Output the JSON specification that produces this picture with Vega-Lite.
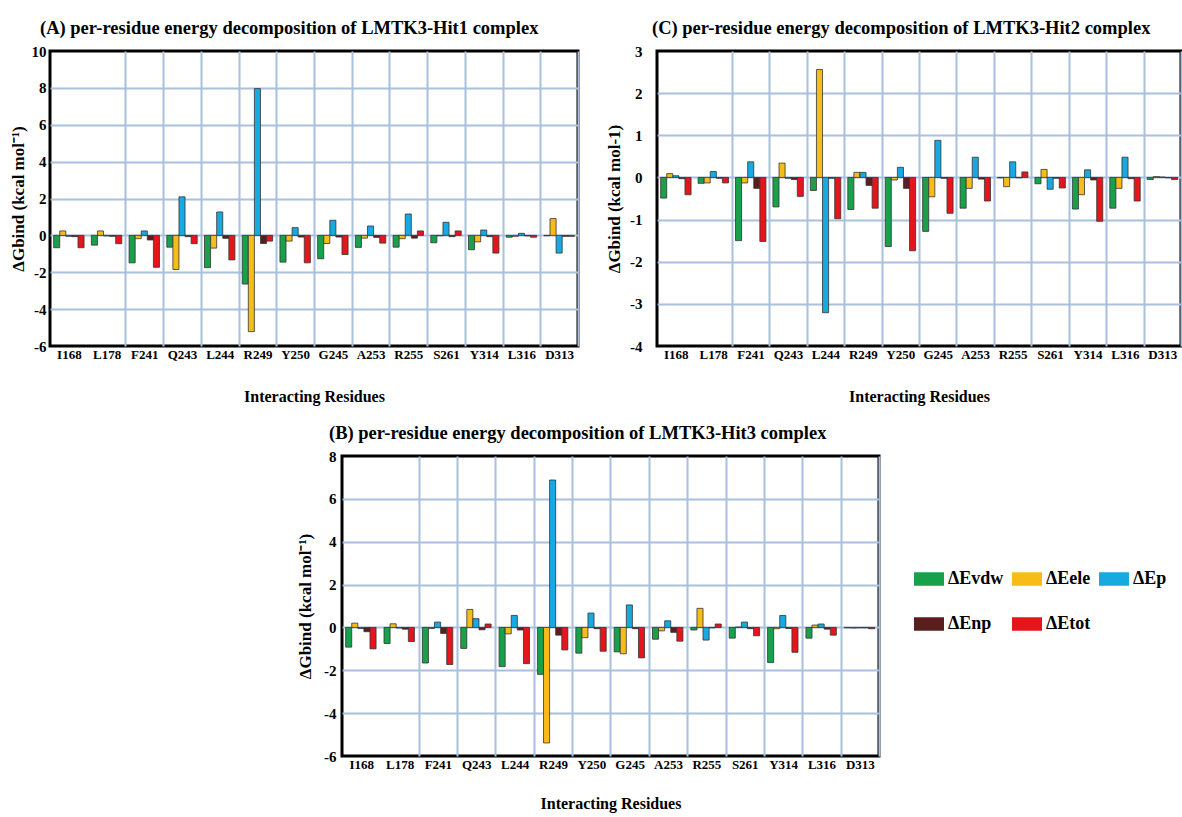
{
"$schema": "https://vega.github.io/schema/vega-lite/v6.json",
"background": "white",
"padding": {"left": 7, "top": 17, "right": 0, "bottom": 0},
"config": {
 "view": {"stroke": "black", "strokeWidth": 3},
 "axis": {"labelFont": "Liberation Serif", "titleFont": "Liberation Serif", "labelFontWeight": "bold", "titleFontWeight": "bold", "labelColor": "black", "titleColor": "black", "gridWidth": 2, "gridOpacity": 1, "domain": false, "ticks": false},
 "title": {"font": "Liberation Serif", "fontWeight": "bold", "fontSize": 18.5, "anchor": "start", "frame": "group", "color": "black", "offset": 7}
},
"datasets": {
 "A": [
  {"residue":"I168","term":"ΔEvdw","value":-0.67},{"residue":"I168","term":"ΔEele","value":0.24},{"residue":"I168","term":"ΔEp","value":-0.05},{"residue":"I168","term":"ΔEnp","value":-0.07},{"residue":"I168","term":"ΔEtot","value":-0.67},
  {"residue":"L178","term":"ΔEvdw","value":-0.53},{"residue":"L178","term":"ΔEele","value":0.24},{"residue":"L178","term":"ΔEp","value":-0.03},{"residue":"L178","term":"ΔEnp","value":-0.05},{"residue":"L178","term":"ΔEtot","value":-0.45},
  {"residue":"F241","term":"ΔEvdw","value":-1.49},{"residue":"F241","term":"ΔEele","value":-0.18},{"residue":"F241","term":"ΔEp","value":0.24},{"residue":"F241","term":"ΔEnp","value":-0.25},{"residue":"F241","term":"ΔEtot","value":-1.73},
  {"residue":"Q243","term":"ΔEvdw","value":-0.64},{"residue":"Q243","term":"ΔEele","value":-1.85},{"residue":"Q243","term":"ΔEp","value":2.09},{"residue":"Q243","term":"ΔEnp","value":-0.07},{"residue":"Q243","term":"ΔEtot","value":-0.45},
  {"residue":"L244","term":"ΔEvdw","value":-1.75},{"residue":"L244","term":"ΔEele","value":-0.69},{"residue":"L244","term":"ΔEp","value":1.27},{"residue":"L244","term":"ΔEnp","value":-0.16},{"residue":"L244","term":"ΔEtot","value":-1.33},
  {"residue":"R249","term":"ΔEvdw","value":-2.64},{"residue":"R249","term":"ΔEele","value":-5.22},{"residue":"R249","term":"ΔEp","value":7.96},{"residue":"R249","term":"ΔEnp","value":-0.44},{"residue":"R249","term":"ΔEtot","value":-0.31},
  {"residue":"Y250","term":"ΔEvdw","value":-1.45},{"residue":"Y250","term":"ΔEele","value":-0.31},{"residue":"Y250","term":"ΔEp","value":0.42},{"residue":"Y250","term":"ΔEnp","value":-0.09},{"residue":"Y250","term":"ΔEtot","value":-1.49},
  {"residue":"G245","term":"ΔEvdw","value":-1.27},{"residue":"G245","term":"ΔEele","value":-0.44},{"residue":"G245","term":"ΔEp","value":0.82},{"residue":"G245","term":"ΔEnp","value":-0.09},{"residue":"G245","term":"ΔEtot","value":-1.04},
  {"residue":"A253","term":"ΔEvdw","value":-0.65},{"residue":"A253","term":"ΔEele","value":-0.15},{"residue":"A253","term":"ΔEp","value":0.51},{"residue":"A253","term":"ΔEnp","value":-0.11},{"residue":"A253","term":"ΔEtot","value":-0.42},
  {"residue":"R255","term":"ΔEvdw","value":-0.64},{"residue":"R255","term":"ΔEele","value":-0.18},{"residue":"R255","term":"ΔEp","value":1.16},{"residue":"R255","term":"ΔEnp","value":-0.15},{"residue":"R255","term":"ΔEtot","value":0.24},
  {"residue":"S261","term":"ΔEvdw","value":-0.4},{"residue":"S261","term":"ΔEele","value":-0.02},{"residue":"S261","term":"ΔEp","value":0.71},{"residue":"S261","term":"ΔEnp","value":-0.07},{"residue":"S261","term":"ΔEtot","value":0.24},
  {"residue":"Y314","term":"ΔEvdw","value":-0.78},{"residue":"Y314","term":"ΔEele","value":-0.35},{"residue":"Y314","term":"ΔEp","value":0.29},{"residue":"Y314","term":"ΔEnp","value":-0.07},{"residue":"Y314","term":"ΔEtot","value":-0.96},
  {"residue":"L316","term":"ΔEvdw","value":-0.1},{"residue":"L316","term":"ΔEele","value":-0.05},{"residue":"L316","term":"ΔEp","value":0.11},{"residue":"L316","term":"ΔEnp","value":-0.03},{"residue":"L316","term":"ΔEtot","value":-0.1},
  {"residue":"D313","term":"ΔEvdw","value":-0.02},{"residue":"D313","term":"ΔEele","value":0.91},{"residue":"D313","term":"ΔEp","value":-0.96},{"residue":"D313","term":"ΔEnp","value":-0.05},{"residue":"D313","term":"ΔEtot","value":-0.05}
 ],
 "C": [
  {"residue":"I168","term":"ΔEvdw","value":-0.49},{"residue":"I168","term":"ΔEele","value":0.09},{"residue":"I168","term":"ΔEp","value":0.04},{"residue":"I168","term":"ΔEnp","value":-0.03},{"residue":"I168","term":"ΔEtot","value":-0.41},
  {"residue":"L178","term":"ΔEvdw","value":-0.14},{"residue":"L178","term":"ΔEele","value":-0.13},{"residue":"L178","term":"ΔEp","value":0.14},{"residue":"L178","term":"ΔEnp","value":-0.02},{"residue":"L178","term":"ΔEtot","value":-0.13},
  {"residue":"F241","term":"ΔEvdw","value":-1.5},{"residue":"F241","term":"ΔEele","value":-0.13},{"residue":"F241","term":"ΔEp","value":0.37},{"residue":"F241","term":"ΔEnp","value":-0.26},{"residue":"F241","term":"ΔEtot","value":-1.52},
  {"residue":"Q243","term":"ΔEvdw","value":-0.7},{"residue":"Q243","term":"ΔEele","value":0.34},{"residue":"Q243","term":"ΔEp","value":-0.02},{"residue":"Q243","term":"ΔEnp","value":-0.05},{"residue":"Q243","term":"ΔEtot","value":-0.45},
  {"residue":"L244","term":"ΔEvdw","value":-0.31},{"residue":"L244","term":"ΔEele","value":2.56},{"residue":"L244","term":"ΔEp","value":-3.21},{"residue":"L244","term":"ΔEnp","value":-0.02},{"residue":"L244","term":"ΔEtot","value":-0.98},
  {"residue":"R249","term":"ΔEvdw","value":-0.76},{"residue":"R249","term":"ΔEele","value":0.12},{"residue":"R249","term":"ΔEp","value":0.12},{"residue":"R249","term":"ΔEnp","value":-0.19},{"residue":"R249","term":"ΔEtot","value":-0.73},
  {"residue":"Y250","term":"ΔEvdw","value":-1.64},{"residue":"Y250","term":"ΔEele","value":-0.06},{"residue":"Y250","term":"ΔEp","value":0.24},{"residue":"Y250","term":"ΔEnp","value":-0.26},{"residue":"Y250","term":"ΔEtot","value":-1.74},
  {"residue":"G245","term":"ΔEvdw","value":-1.28},{"residue":"G245","term":"ΔEele","value":-0.46},{"residue":"G245","term":"ΔEp","value":0.88},{"residue":"G245","term":"ΔEnp","value":-0.02},{"residue":"G245","term":"ΔEtot","value":-0.85},
  {"residue":"A253","term":"ΔEvdw","value":-0.73},{"residue":"A253","term":"ΔEele","value":-0.26},{"residue":"A253","term":"ΔEp","value":0.48},{"residue":"A253","term":"ΔEnp","value":-0.04},{"residue":"A253","term":"ΔEtot","value":-0.56},
  {"residue":"R255","term":"ΔEvdw","value":-0.01},{"residue":"R255","term":"ΔEele","value":-0.22},{"residue":"R255","term":"ΔEp","value":0.37},{"residue":"R255","term":"ΔEnp","value":-0.01},{"residue":"R255","term":"ΔEtot","value":0.13},
  {"residue":"S261","term":"ΔEvdw","value":-0.15},{"residue":"S261","term":"ΔEele","value":0.19},{"residue":"S261","term":"ΔEp","value":-0.28},{"residue":"S261","term":"ΔEnp","value":-0.02},{"residue":"S261","term":"ΔEtot","value":-0.25},
  {"residue":"Y314","term":"ΔEvdw","value":-0.75},{"residue":"Y314","term":"ΔEele","value":-0.41},{"residue":"Y314","term":"ΔEp","value":0.18},{"residue":"Y314","term":"ΔEnp","value":-0.06},{"residue":"Y314","term":"ΔEtot","value":-1.04},
  {"residue":"L316","term":"ΔEvdw","value":-0.73},{"residue":"L316","term":"ΔEele","value":-0.26},{"residue":"L316","term":"ΔEp","value":0.48},{"residue":"L316","term":"ΔEnp","value":-0.03},{"residue":"L316","term":"ΔEtot","value":-0.56},
  {"residue":"D313","term":"ΔEvdw","value":-0.05},{"residue":"D313","term":"ΔEele","value":0.02},{"residue":"D313","term":"ΔEp","value":0.01},{"residue":"D313","term":"ΔEnp","value":-0.01},{"residue":"D313","term":"ΔEtot","value":-0.05}
 ],
 "B": [
  {"residue":"I168","term":"ΔEvdw","value":-0.92},{"residue":"I168","term":"ΔEele","value":0.2},{"residue":"I168","term":"ΔEp","value":-0.05},{"residue":"I168","term":"ΔEnp","value":-0.2},{"residue":"I168","term":"ΔEtot","value":-1.0},
  {"residue":"L178","term":"ΔEvdw","value":-0.75},{"residue":"L178","term":"ΔEele","value":0.17},{"residue":"L178","term":"ΔEp","value":-0.03},{"residue":"L178","term":"ΔEnp","value":-0.08},{"residue":"L178","term":"ΔEtot","value":-0.66},
  {"residue":"F241","term":"ΔEvdw","value":-1.66},{"residue":"F241","term":"ΔEele","value":-0.05},{"residue":"F241","term":"ΔEp","value":0.25},{"residue":"F241","term":"ΔEnp","value":-0.28},{"residue":"F241","term":"ΔEtot","value":-1.73},
  {"residue":"Q243","term":"ΔEvdw","value":-0.98},{"residue":"Q243","term":"ΔEele","value":0.84},{"residue":"Q243","term":"ΔEp","value":0.41},{"residue":"Q243","term":"ΔEnp","value":-0.11},{"residue":"Q243","term":"ΔEtot","value":0.16},
  {"residue":"L244","term":"ΔEvdw","value":-1.83},{"residue":"L244","term":"ΔEele","value":-0.3},{"residue":"L244","term":"ΔEp","value":0.56},{"residue":"L244","term":"ΔEnp","value":-0.12},{"residue":"L244","term":"ΔEtot","value":-1.69},
  {"residue":"R249","term":"ΔEvdw","value":-2.19},{"residue":"R249","term":"ΔEele","value":-5.39},{"residue":"R249","term":"ΔEp","value":6.88},{"residue":"R249","term":"ΔEnp","value":-0.36},{"residue":"R249","term":"ΔEtot","value":-1.05},
  {"residue":"Y250","term":"ΔEvdw","value":-1.2},{"residue":"Y250","term":"ΔEele","value":-0.48},{"residue":"Y250","term":"ΔEp","value":0.67},{"residue":"Y250","term":"ΔEnp","value":-0.06},{"residue":"Y250","term":"ΔEtot","value":-1.11},
  {"residue":"G245","term":"ΔEvdw","value":-1.14},{"residue":"G245","term":"ΔEele","value":-1.23},{"residue":"G245","term":"ΔEp","value":1.05},{"residue":"G245","term":"ΔEnp","value":-0.06},{"residue":"G245","term":"ΔEtot","value":-1.42},
  {"residue":"A253","term":"ΔEvdw","value":-0.55},{"residue":"A253","term":"ΔEele","value":-0.16},{"residue":"A253","term":"ΔEp","value":0.31},{"residue":"A253","term":"ΔEnp","value":-0.23},{"residue":"A253","term":"ΔEtot","value":-0.64},
  {"residue":"R255","term":"ΔEvdw","value":-0.12},{"residue":"R255","term":"ΔEele","value":0.89},{"residue":"R255","term":"ΔEp","value":-0.59},{"residue":"R255","term":"ΔEnp","value":-0.02},{"residue":"R255","term":"ΔEtot","value":0.16},
  {"residue":"S261","term":"ΔEvdw","value":-0.5},{"residue":"S261","term":"ΔEele","value":0.02},{"residue":"S261","term":"ΔEp","value":0.25},{"residue":"S261","term":"ΔEnp","value":-0.06},{"residue":"S261","term":"ΔEtot","value":-0.39},
  {"residue":"Y314","term":"ΔEvdw","value":-1.64},{"residue":"Y314","term":"ΔEele","value":-0.06},{"residue":"Y314","term":"ΔEp","value":0.56},{"residue":"Y314","term":"ΔEnp","value":-0.05},{"residue":"Y314","term":"ΔEtot","value":-1.16},
  {"residue":"L316","term":"ΔEvdw","value":-0.5},{"residue":"L316","term":"ΔEele","value":0.11},{"residue":"L316","term":"ΔEp","value":0.16},{"residue":"L316","term":"ΔEnp","value":-0.08},{"residue":"L316","term":"ΔEtot","value":-0.36},
  {"residue":"D313","term":"ΔEvdw","value":-0.02},{"residue":"D313","term":"ΔEele","value":-0.03},{"residue":"D313","term":"ΔEp","value":-0.02},{"residue":"D313","term":"ΔEnp","value":-0.02},{"residue":"D313","term":"ΔEtot","value":-0.06}
 ]
},
"spacing": 16,
"resolve": {"legend": {"color": "independent"}},
"vconcat": [
 {"spacing": 24, "hconcat": [
  {
   "data": {"name": "A"},
   "width": 528, "height": 295,
   "title": {"text": "(A) per-residue energy decomposition of  LMTK3-Hit1 complex", "dx": -10},
   "mark": {"type": "bar", "stroke": "#333333", "strokeWidth": 0.8},
   "encoding": {
    "x": {"field": "residue", "type": "nominal", "sort": ["I168","L178","F241","Q243","L244","R249","Y250","G245","A253","R255","S261","Y314","L316","D313"], "scale": {"paddingInner": 0, "paddingOuter": 0},
      "axis": {"title": "Interacting Residues", "labelAngle": 0, "grid": true, "tickBand": "extent", "gridColor": {"condition": {"test": "datum.index <= 0", "value": "transparent"}, "value": "#a9c0de"}, "labelFontSize": 13, "titleFontSize": 16, "labelPadding": 2, "titlePadding": 27}},
    "xOffset": {"field": "term", "type": "nominal", "sort": ["ΔEvdw","ΔEele","ΔEp","ΔEnp","ΔEtot"], "scale": {"paddingInner": 0, "paddingOuter": 0.6}},
    "y": {"field": "value", "type": "quantitative", "scale": {"domain": [-6, 10], "nice": false},
      "axis": {"values": [-6,-4,-2,0,2,4,6,8,10], "labelExpr": "datum.value < 0 ? '-' + abs(datum.value) : '' + datum.value", "title": "ΔGbind  (kcal mol⁻¹)", "grid": true, "gridColor": {"condition": {"test": "datum.value == -6 || datum.value == 10", "value": "transparent"}, "value": "#a9c0de"}, "labelFontSize": 15, "titleFontSize": 17, "labelPadding": 4, "titlePadding": 4}},
    "color": {"field": "term", "type": "nominal", "scale": {"domain": ["ΔEvdw","ΔEele","ΔEp","ΔEnp","ΔEtot"], "range": ["#19a04b","#f7bc17","#18a9e1","#5b1e1e","#e6151b"]}, "legend": null}
   }
  },
  {
   "data": {"name": "C"},
   "width": 524, "height": 295,
   "title": {"text": "(C) per-residue energy decomposition of  LMTK3-Hit2 complex", "dx": -5},
   "mark": {"type": "bar", "stroke": "#333333", "strokeWidth": 0.8},
   "encoding": {
    "x": {"field": "residue", "type": "nominal", "sort": ["I168","L178","F241","Q243","L244","R249","Y250","G245","A253","R255","S261","Y314","L316","D313"], "scale": {"paddingInner": 0, "paddingOuter": 0},
      "axis": {"title": "Interacting Residues", "labelAngle": 0, "grid": true, "tickBand": "extent", "gridColor": {"condition": {"test": "datum.index <= 0", "value": "transparent"}, "value": "#a9c0de"}, "labelFontSize": 13, "titleFontSize": 16, "labelPadding": 2, "titlePadding": 27}},
    "xOffset": {"field": "term", "type": "nominal", "sort": ["ΔEvdw","ΔEele","ΔEp","ΔEnp","ΔEtot"], "scale": {"paddingInner": 0, "paddingOuter": 0.6}},
    "y": {"field": "value", "type": "quantitative", "scale": {"domain": [-4, 3], "nice": false},
      "axis": {"values": [-4,-3,-2,-1,0,1,2,3], "labelExpr": "datum.value < 0 ? '-' + abs(datum.value) : '' + datum.value", "title": "ΔGbind (kcal mol-1)", "grid": true, "gridColor": {"condition": {"test": "datum.value == -4 || datum.value == 3", "value": "transparent"}, "value": "#a9c0de"}, "labelFontSize": 15, "titleFontSize": 17, "labelPadding": 15, "titlePadding": 6}},
    "color": {"field": "term", "type": "nominal", "scale": {"domain": ["ΔEvdw","ΔEele","ΔEp","ΔEnp","ΔEtot"], "range": ["#19a04b","#f7bc17","#18a9e1","#5b1e1e","#e6151b"]}, "legend": null}
   }
  }
 ]},
 {"spacing": 0, "resolve": {"legend": {"color": "independent"}}, "hconcat": [
  {
   "data": {"values": [{"residue": "none"}]},
   "width": 245, "height": 10,
   "view": {"stroke": null},
   "mark": {"type": "point", "opacity": 0},
   "encoding": {}
  },
  {
   "data": {"name": "B"},
   "width": 537, "height": 300,
   "title": {"text": "(B) per-residue energy decomposition of  LMTK3-Hit3 complex", "dx": -13},
   "mark": {"type": "bar", "stroke": "#333333", "strokeWidth": 0.8},
   "encoding": {
    "x": {"field": "residue", "type": "nominal", "sort": ["I168","L178","F241","Q243","L244","R249","Y250","G245","A253","R255","S261","Y314","L316","D313"], "scale": {"paddingInner": 0, "paddingOuter": 0},
      "axis": {"title": "Interacting Residues", "labelAngle": 0, "grid": true, "tickBand": "extent", "gridColor": {"condition": {"test": "datum.index <= 0", "value": "transparent"}, "value": "#a9c0de"}, "labelFontSize": 13, "titleFontSize": 16, "labelPadding": 2, "titlePadding": 24}},
    "xOffset": {"field": "term", "type": "nominal", "sort": ["ΔEvdw","ΔEele","ΔEp","ΔEnp","ΔEtot"], "scale": {"paddingInner": 0, "paddingOuter": 0.6}},
    "y": {"field": "value", "type": "quantitative", "scale": {"domain": [-6, 8], "nice": false},
      "axis": {"values": [-6,-4,-2,0,2,4,6,8], "labelExpr": "datum.value < 0 ? '-' + abs(datum.value) : '' + datum.value", "title": "ΔGbind  (kcal mol⁻¹)", "grid": true, "gridColor": {"condition": {"test": "datum.value == -6 || datum.value == 8", "value": "transparent"}, "value": "#a9c0de"}, "labelFontSize": 15, "titleFontSize": 17, "labelPadding": 6, "titlePadding": 9}},
    "color": {"field": "term", "type": "nominal", "scale": {"domain": ["ΔEvdw","ΔEele","ΔEp","ΔEnp","ΔEtot"], "range": ["#19a04b","#f7bc17","#18a9e1","#5b1e1e","#e6151b"]},
      "legend": {"title": null, "orient": "none", "legendX": 572, "legendY": 108, "direction": "horizontal", "columns": 3, "symbolType": "M-1,-0.45H1V0.45H-1Z", "symbolSize": 900, "symbolStrokeWidth": 0, "labelFont": "Liberation Serif", "labelFontWeight": "bold", "labelFontSize": 18, "labelColor": "black", "columnPadding": 8, "rowPadding": 21, "labelOffset": 4}}
   }
  }
 ]}
]
}
